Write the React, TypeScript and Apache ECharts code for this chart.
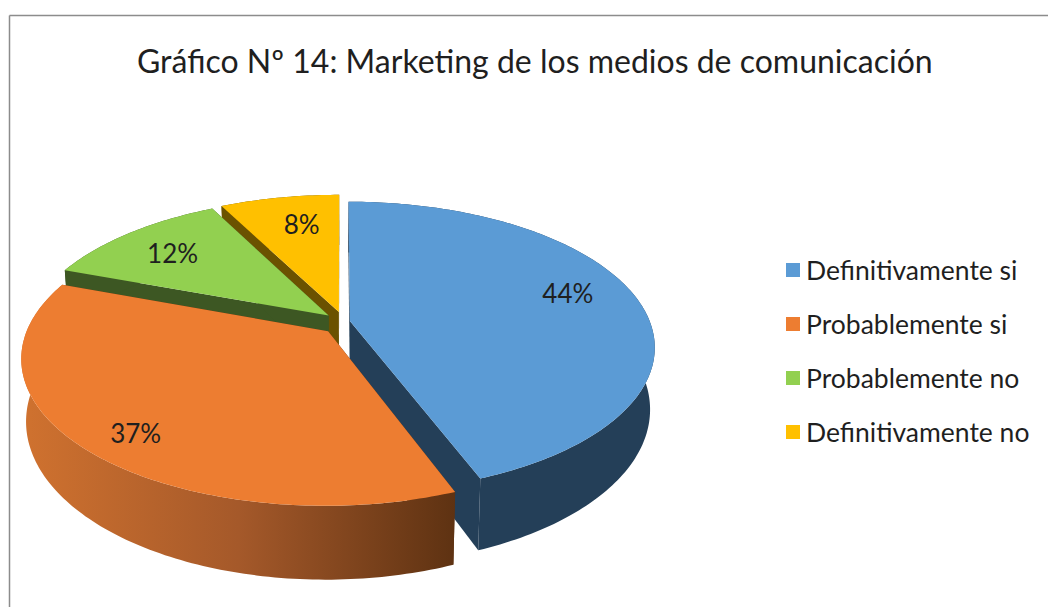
import React, { useEffect, useRef } from "react";
import * as echarts from "echarts";

const titleText = "Gráfico Nº 14: Marketing de los medios de comunicación";
const categories = ["Definitivamente si", "Probablemente si", "Probablemente no", "Definitivamente no"];
const values = [44.4, 36.6, 11.9, 7.6];
const colors = ["#5B9BD5", "#ED7D31", "#92D050", "#FFC000"];
const wallColors = ["#243F58", "#5E3212", "#3D5723", "#6B5200"];
const labelRadius = [0.78, 0.835, 0.75, 0.73];
const labelTurn = [-5, -3, -1, 2.4];
const explodeAcross = [0.03, 0.06, 0.055, 0.03];
const sliceRadius = [0.995, 0.988, 1, 1];
const drawOrder = [3, 2, 0, 1];

const FONT = "Lato";
const cx = 341, cy = 323, Rx = 302, Ry = 142, k = 0.18, H = 60;
const explodeV = 0.08;
const total = values.reduce((a, b) => a + b, 0);

function project(u: number, v: number, drop = 0): number[] {
  const w = 1 + k * v;
  const sx = cx + (Rx * u) / w;
  const sy = cy - (Ry * v) / w;
  if (!drop) return [sx, sy];
  return [cx + (sx - cx) * 0.985, sy + H / w];
}

function renderSlice(params: any, api: any) {
  const i = params.seriesIndex;
  const value = api.value(0);
  let before = 0;
  for (let j = 0; j < i; j++) before += values[j];
  const a0 = (before / total) * Math.PI * 2;
  const a1 = ((before + value) / total) * Math.PI * 2;
  const mid = (a0 + a1) / 2;
  const ou = explodeAcross[i] * Math.sin(mid);
  const ov = explodeV * Math.cos(mid);
  const r = sliceRadius[i];
  const steps = Math.max(8, Math.round(((a1 - a0) * 180) / Math.PI));
  const top: number[][] = [];
  const bottom: number[][] = [];
  for (let s = 0; s <= steps; s++) {
    const a = a0 + ((a1 - a0) * s) / steps;
    const u = ou + r * Math.sin(a);
    const v = ov + r * Math.cos(a);
    top.push(project(u, v));
    bottom.push(project(u, v, 1));
  }
  const apex = project(ou, ov);
  const apexB = project(ou, ov, 1);
  const wall = wallColors[i];
  const sideFill: any =
    i === 1
      ? new echarts.graphic.LinearGradient(0, 0, 1, 0, [
          { offset: 0, color: "#D0722F" },
          { offset: 0.5, color: "#A5592A" },
          { offset: 1, color: "#5E3212" },
        ])
      : wall;
  const lr = labelRadius[i];
  const la = mid + (labelTurn[i] * Math.PI) / 180;
  const lp = project(ou + lr * Math.sin(la), ov + lr * Math.cos(la));
  return {
    type: "group",
    silent: true,
    children: [
      { type: "polygon", shape: { points: [apex, top[0], bottom[0], apexB] }, style: { fill: wall } },
      { type: "polygon", shape: { points: [apex, top[steps], bottom[steps], apexB] }, style: { fill: wall } },
      { type: "polygon", shape: { points: [...top, ...bottom.slice().reverse()] }, style: { fill: sideFill } },
      { type: "polygon", shape: { points: [apex, ...top] }, style: { fill: colors[i] } },
      {
        type: "text",
        x: lp[0],
        y: lp[1],
        style: {
          text: Math.round(value) + "%",
          fill: "#1f1f1f",
          font: `26px ${FONT}`,
          align: "center",
          verticalAlign: "middle",
        },
      },
    ],
  };
}

export default function App() {
  const ref = useRef<HTMLDivElement>(null);
  useEffect(() => {
    const chart = echarts.init(ref.current!, null, { renderer: "svg" });
    chart.setOption({
      animation: false,
      backgroundColor: "#ffffff",
      title: {
        text: titleText,
        left: 132,
        top: 39,
        textStyle: { fontFamily: FONT, fontSize: 32, fontWeight: "normal", color: "#1f1f1f" },
      },
      legend: {
        orient: "vertical",
        left: 781,
        top: 250,
        itemWidth: 14,
        itemHeight: 14,
        itemGap: 24,
        icon: "rect",
        selectedMode: false,
        data: categories,
        textStyle: { fontFamily: FONT, fontSize: 26.5, color: "#1f1f1f", lineHeight: 30, padding: [0, 0, 0, 1] },
      },
      graphic: [
        { type: "line", shape: { x1: 9.5, y1: 15.5, x2: 1048, y2: 15.5 }, style: { stroke: "#8c8c8c", lineWidth: 1.5 } },
        { type: "line", shape: { x1: 9.5, y1: 15.5, x2: 9.5, y2: 607 }, style: { stroke: "#8c8c8c", lineWidth: 1.5 } },
      ],
      series: categories.map((name, i) => ({
        type: "custom",
        name,
        coordinateSystem: "none",
        z: 2 + drawOrder.indexOf(i),
        itemStyle: { color: colors[i] },
        data: [[values[i]]],
        renderItem: renderSlice,
      })),
    });
    return () => chart.dispose();
  }, []);
  return <div ref={ref} style={{ position: "fixed", left: 0, top: 0, width: 1048, height: 607 }} />;
}
